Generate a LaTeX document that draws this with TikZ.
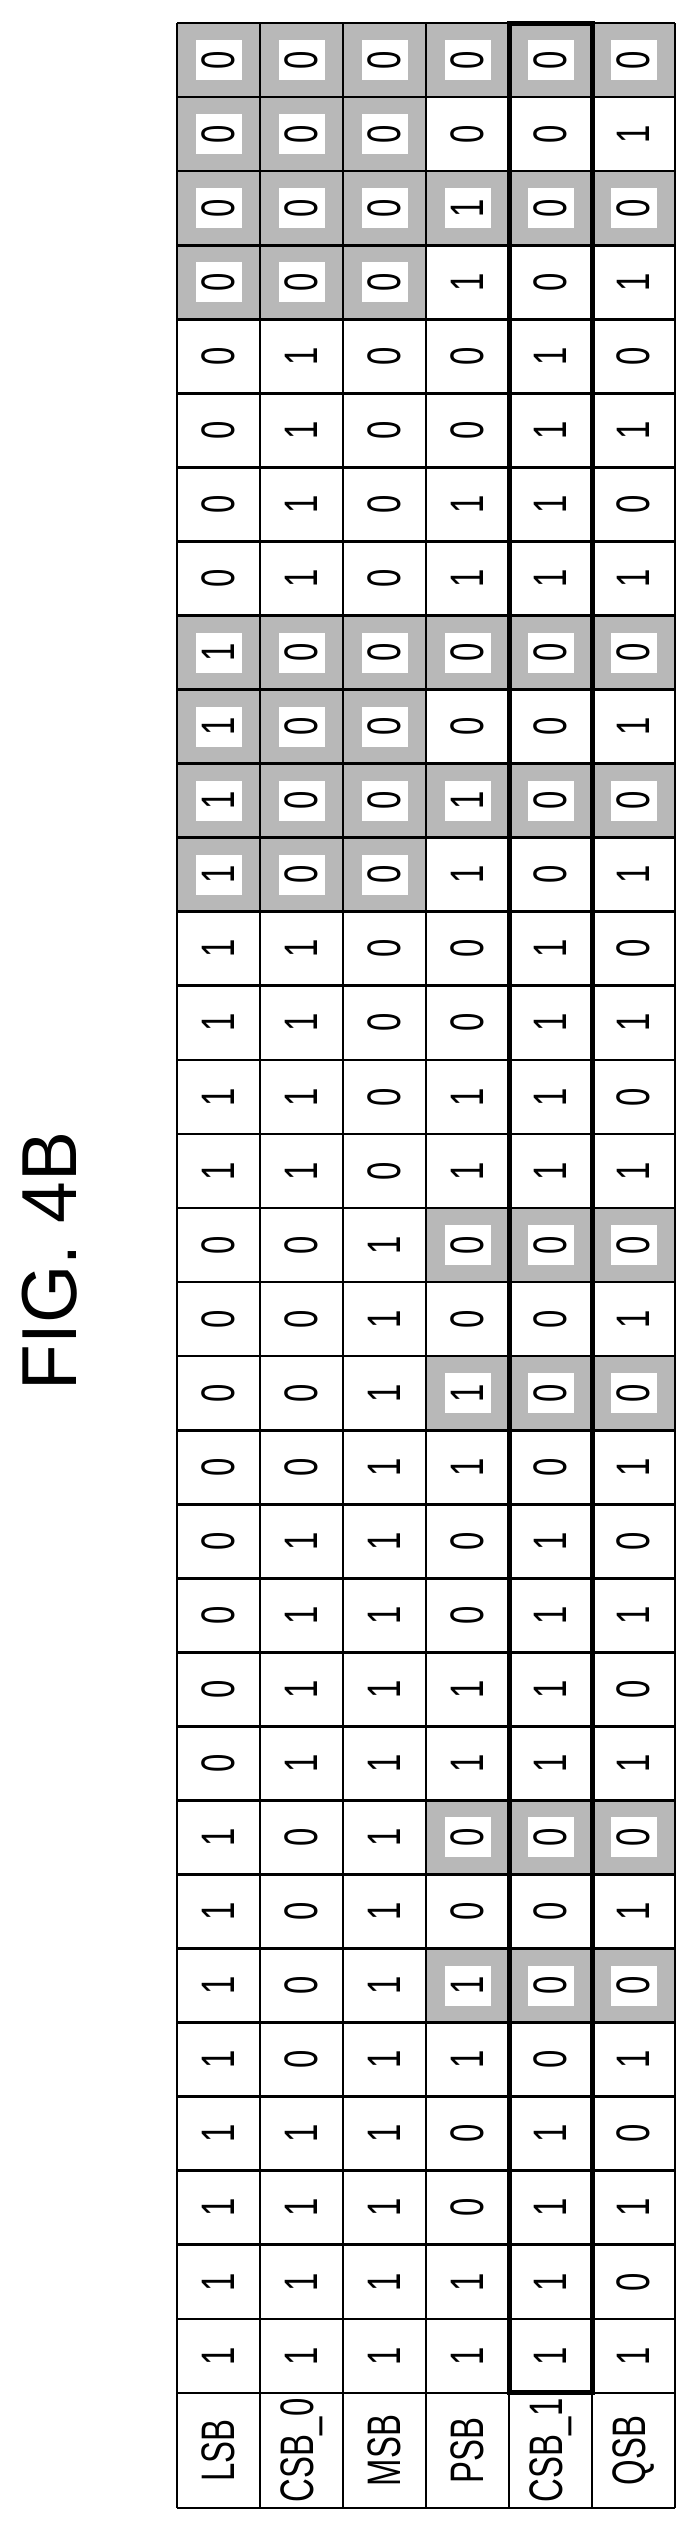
\documentclass[tikz,border=0pt]{standalone}
\usepackage{fontspec}
\setsansfont{Liberation Sans}
\usetikzlibrary{positioning}
\newcommand{\colw}{83}
\newcommand{\rowh}{74.06}
\newcommand{\tabx}{177}
\newcommand{\taby}{23}
\newcommand{\nar}[1]{\scalebox{0.7}[1]{#1}}

\begin{document}
\begin{tikzpicture}[x=1pt,y=1pt,
    bit/.style={rotate=90,inner sep=0pt,font=\sffamily\fontsize{47}{47}\selectfont},
    shade/.style={fill=black!28},
    hole/.style={fill=white},
    grid/.style={line width=2.7pt},
    frame/.style={line width=5pt}]
  \useasboundingbox (0,0) rectangle (694,-2530);
  % title
  \node[bit,font=\sffamily\fontsize{78}{78}\selectfont] (title) at (50,-1261) {\scalebox{0.96}[1]{FIG. 4B}};
  % bit rows: values / shade left / shade right
  \foreach \vals/\sl/\sr [count=\r] in {
      {0,0,0,0,0,0}/1/1, {0,0,0,0,0,1}/1/0, {0,0,0,1,0,0}/1/1, {0,0,0,1,0,1}/1/0,
      {0,1,0,0,1,0}/0/0, {0,1,0,0,1,1}/0/0, {0,1,0,1,1,0}/0/0, {0,1,0,1,1,1}/0/0,
      {1,0,0,0,0,0}/1/1, {1,0,0,0,0,1}/1/0, {1,0,0,1,0,0}/1/1, {1,0,0,1,0,1}/1/0,
      {1,1,0,0,1,0}/0/0, {1,1,0,0,1,1}/0/0, {1,1,0,1,1,0}/0/0, {1,1,0,1,1,1}/0/0,
      {0,0,1,0,0,0}/0/1, {0,0,1,0,0,1}/0/0, {0,0,1,1,0,0}/0/1, {0,0,1,1,0,1}/0/0,
      {0,1,1,0,1,0}/0/0, {0,1,1,0,1,1}/0/0, {0,1,1,1,1,0}/0/0, {0,1,1,1,1,1}/0/0,
      {1,0,1,0,0,0}/0/1, {1,0,1,0,0,1}/0/0, {1,0,1,1,0,0}/0/1, {1,0,1,1,0,1}/0/0,
      {1,1,1,0,1,0}/0/0, {1,1,1,0,1,1}/0/0, {1,1,1,1,1,0}/0/0, {1,1,1,1,1,1}/0/0} {
    \foreach \v [count=\c] in \vals {
      \pgfmathsetmacro{\cx}{\tabx+(\c-0.5)*\colw}
      \pgfmathsetmacro{\cy}{-(\taby+(\r-0.5)*\rowh)}
      \pgfmathtruncatemacro{\on}{(\c<4 && \sl==1) || (\c>3 && \sr==1)}
      \ifnum\on=1
        \fill[shade] (\cx-\colw/2,\cy-\rowh/2) rectangle (\cx+\colw/2,\cy+\rowh/2);
        \fill[hole] (\cx-23,\cy-20) rectangle (\cx+23,\cy+20);
      \fi
      \node[bit] (b-\r-\c) at (\cx,\cy) {\nar{\v}};
    }
  }
  % labels
  \foreach \lab [count=\c] in {LSB,CSB\_0,MSB,PSB,CSB\_1,QSB}
    \node[bit] (lab-\c) at ({\tabx+(\c-0.5)*\colw},-2450.5) {\nar{\lab}};
  % grid
  \foreach \c in {0,...,6}
    \draw[grid] ({\tabx+\c*\colw},-\taby) -- ({\tabx+\c*\colw},-2508);
  \foreach \r in {0,...,32}
    \draw[grid] (\tabx,{-(\taby+\r*\rowh)}) -- ({\tabx+6*\colw},{-(\taby+\r*\rowh)});
  \draw[grid] (\tabx,-2508) -- ({\tabx+6*\colw},-2508);
  \draw[frame] ({\tabx+4*\colw},-\taby) rectangle ({\tabx+5*\colw},{-(\taby+32*\rowh)});
\end{tikzpicture}
\end{document}
